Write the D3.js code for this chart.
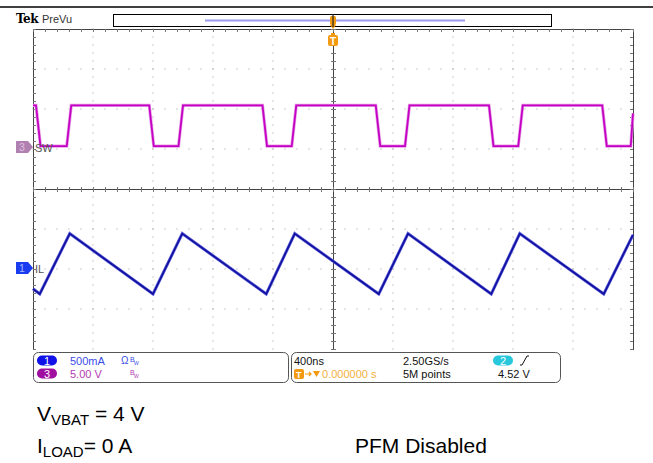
<!DOCTYPE html>
<html>
<head>
<meta charset="utf-8">
<script src="https://cdn.jsdelivr.net/npm/d3@7/dist/d3.min.js"></script>
<style>
  body { margin: 0; background: #fff; }
  svg { display: block; font-family: "Liberation Sans", Arial, sans-serif; }
</style>
</head>
<body>
<div id="chart"></div>
<script>
const swTime = [-2000, -1980, -1950, -1775, -1745, -1225, -1195, -1030, -1000,
  -470, -440, -275, -245, 285, 315, 480, 510, 1040, 1070, 1235, 1265, 1795, 1825, 1985, 2000];
const swVolt = [5.2, 5.2, 0.1, 0.1, 5.2, 5.2, 0.1, 0.1, 5.2,
  5.2, 0.1, 0.1, 5.2, 5.2, 0.1, 0.1, 5.2, 5.2, 0.1, 0.1, 5.2, 5.2, 0.1, 0.1, 4.2];

const ilTime = [-2000, -1955, -1755, -1200, -1005, -445, -255, 305, 500, 1055, 1245, 1805, 2000];
const ilCurrent = [-260, -325, 430, -325, 430, -325, 430, -325, 430, -325, 430, -325, 415]; // mA

const timeRange = [-2000, 2000];
const divRange = [-4, 4];

const W = 653, H = 463;
const plot = { left: 33, right: 633, top: 29, bottom: 349 };

const svg = d3.select('#chart').append('svg')
    .attr('width', W).attr('height', H);

const x = d3.scaleLinear().domain(timeRange).range([plot.left, plot.right]);
const gy = d3.scaleLinear().domain(divRange).range([plot.bottom, plot.top]);
const ySW = d3.scaleLinear().domain([0, 5]).range([147, 107]);
const yIL = d3.scaleLinear().domain([0, 500]).range([268, 228]);

// top rule
svg.append('line').attr('x1', 0).attr('x2', W).attr('y1', 7).attr('y2', 7)
    .attr('stroke', '#000').attr('stroke-width', 1.5);

// header
svg.append('text').attr('x', 16).attr('y', 23)
    .attr('font-family', '"DejaVu Serif", serif').attr('font-weight', 'bold')
    .attr('font-size', 12).attr('letter-spacing', -0.5).text('Tek');
svg.append('text').attr('x', 42).attr('y', 23)
    .attr('font-size', 11).attr('fill', '#333').text('PreVu');

// record view bar
svg.append('rect').attr('x', 113.5).attr('y', 14.5).attr('width', 438).attr('height', 12)
    .attr('fill', '#fff').attr('stroke', '#000');
svg.append('line').attr('x1', 205).attr('x2', 465).attr('y1', 20.5).attr('y2', 20.5)
    .attr('stroke', '#9a9af0').attr('stroke-width', 2);
svg.append('rect').attr('x', x(0) - 3).attr('y', 16).attr('width', 6).attr('height', 9)
    .attr('rx', 1.5).attr('fill', '#f39a12');
svg.append('path').attr('d', `M${x(0) - 3},25 L${x(0) + 3},25 L${x(0)},29 Z`)
    .attr('fill', '#f39a12');
svg.append('line').attr('x1', x(0)).attr('x2', x(0)).attr('y1', 14).attr('y2', 27)
    .attr('stroke', '#222').attr('stroke-width', 1.2);

// graticule dots
const majorT = d3.range(-1600, 1601, 400).filter((t) => t !== 0);
const majorD = d3.range(-3, 4).filter((d) => d !== 0);
const minorT = d3.range(timeRange[0], timeRange[1] + 1, 80);
const minorD = d3.range(divRange[0], divRange[1] + 0.001, 0.2);
const dots = [];
majorT.forEach((t) => minorD.forEach((d) => dots.push([x(t), gy(d)])));
majorD.forEach((d) => minorT.forEach((t) => dots.push([x(t), gy(d)])));
svg.append('g').selectAll('rect').data(dots).join('rect')
    .attr('x', (d) => Math.round(d[0]) - 0.5).attr('y', (d) => Math.round(d[1]) - 0.5)
    .attr('width', 1).attr('height', 1).attr('fill', '#9a9a9a');

// frame and crosshair
const frame = svg.append('g').attr('stroke', '#444').attr('fill', 'none');
frame.append('path')
    .attr('d', `M${plot.left + 0.5},${plot.bottom + 1} V${plot.top + 0.5} H${plot.right + 0.5} V${plot.bottom + 1}`);
frame.append('line').attr('x1', plot.left).attr('x2', plot.right)
    .attr('y1', gy(0) + 0.5).attr('y2', gy(0) + 0.5);
frame.append('line').attr('x1', x(0) + 0.5).attr('x2', x(0) + 0.5)
    .attr('y1', plot.top).attr('y2', plot.bottom);
const ticks = svg.append('g').attr('stroke', '#777').attr('fill', 'none');
minorT.forEach((t) => {
  const px = Math.round(x(t)) + 0.5;
  ticks.append('line').attr('x1', px).attr('x2', px).attr('y1', gy(0) - 2).attr('y2', gy(0) + 3);
  ticks.append('line').attr('x1', px).attr('x2', px).attr('y1', plot.top).attr('y2', plot.top + 3);
});
minorD.forEach((d) => {
  const py = Math.round(gy(d)) + 0.5;
  ticks.append('line').attr('x1', x(0) - 2).attr('x2', x(0) + 3).attr('y1', py).attr('y2', py);
  ticks.append('line').attr('x1', plot.left).attr('x2', plot.left + 3).attr('y1', py).attr('y2', py);
  ticks.append('line').attr('x1', plot.right - 3).attr('x2', plot.right).attr('y1', py).attr('y2', py);
});

// trigger marker below top edge
const tm = svg.append('g').attr('transform', `translate(${x(0)},33)`);
tm.append('path').attr('d', 'M-2,0 L2,0 L2,2 L-2,2 Z').attr('fill', '#f39a12');
tm.append('rect').attr('x', -5).attr('y', 2).attr('width', 10).attr('height', 11)
    .attr('rx', 2).attr('fill', '#f39a12');
tm.append('text').attr('x', 0).attr('y', 11.5).attr('text-anchor', 'middle')
    .attr('font-size', 10).attr('font-weight', 'bold').attr('fill', '#fff').text('T');

// traces
const swData = swTime.map((t, i) => [t, swVolt[i]]);
const ilData = ilTime.map((t, i) => [t, ilCurrent[i]]);
svg.append('path').datum(swData)
    .attr('fill', 'none').attr('stroke', '#e7a0e7').attr('stroke-width', 3.2)
    .attr('d', d3.line().x((d) => x(d[0])).y((d) => ySW(d[1])));
svg.append('path').datum(swData)
    .attr('fill', 'none').attr('stroke', '#c400c4').attr('stroke-width', 1.8)
    .attr('d', d3.line().x((d) => x(d[0])).y((d) => ySW(d[1])));
svg.append('path').datum(ilData)
    .attr('fill', 'none').attr('stroke', '#5a5ad8').attr('stroke-width', 3)
    .attr('d', d3.line().x((d) => x(d[0])).y((d) => yIL(d[1])));
svg.append('path').datum(ilData)
    .attr('fill', 'none').attr('stroke', '#1010a0').attr('stroke-width', 1.6)
    .attr('d', d3.line().x((d) => x(d[0])).y((d) => yIL(d[1])));

// channel ground markers
const marker = (yy, fill, txtFill, num, label) => {
  const g = svg.append('g').attr('transform', `translate(0,${yy})`);
  g.append('path').attr('d', 'M16,-6 H28 L33,0 L28,6 H16 Z').attr('fill', fill);
  g.append('text').attr('x', 22).attr('y', 4).attr('text-anchor', 'middle')
      .attr('font-size', 10.5).attr('fill', txtFill).text(num);
  g.append('text').attr('x', 35).attr('y', 4.5)
      .attr('font-size', 11).attr('fill', '#555').text(label);
};
marker(ySW(0), '#b080b0', '#e0c0e0', '3', 'SW');
marker(yIL(0), '#1a3cf0', '#a8b8ff', '1', 'IL');

// status readout
const st = svg.append('g');
st.append('rect').attr('x', 33.5).attr('y', 352.5).attr('width', 255).attr('height', 30)
    .attr('rx', 5).attr('fill', 'none').attr('stroke', '#555');
st.append('rect').attr('x', 291.5).attr('y', 352.5).attr('width', 269).attr('height', 30)
    .attr('rx', 5).attr('fill', 'none').attr('stroke', '#555');
const pill = (cx, cy, fill, num) => {
  st.append('rect').attr('x', cx - 10).attr('y', cy - 5).attr('width', 20).attr('height', 10)
      .attr('rx', 5).attr('fill', fill);
  st.append('text').attr('x', cx).attr('y', cy + 4).attr('text-anchor', 'middle')
      .attr('font-size', 11).attr('fill', '#fff').text(num);
};
const txt = (xx, yy, s, fill, size = 11) =>
  st.append('text').attr('x', xx).attr('y', yy).attr('font-size', size).attr('fill', fill).text(s);
pill(47, 360.5, '#1010e8', '1');
pill(47, 373.5, '#a010a0', '3');
pill(503, 360.5, '#28c8dc', '2');
txt(70, 365, '500mA', '#3a4ce8');
txt(70, 378, '5.00 V', '#b23ab2');
txt(121, 364, 'Ω', '#3a4ce8', 10);
txt(130, 362, 'B', '#3a4ce8', 7);
txt(134, 365, 'W', '#3a4ce8', 5);
txt(130, 375, 'B', '#b23ab2', 7);
txt(134, 378, 'W', '#b23ab2', 5);
txt(294, 365, '400ns', '#111');
txt(403, 365, '2.50GS/s', '#111');
txt(403, 378, '5M points', '#111');
txt(498, 378, '4.52 V', '#111');
st.append('path').attr('d', 'M520,365 L522,365 L527,356 L529,356')
    .attr('fill', 'none').attr('stroke', '#111').attr('stroke-width', 1);
st.append('rect').attr('x', 294).attr('y', 369).attr('width', 10).attr('height', 10)
    .attr('rx', 2).attr('fill', '#f39a12');
txt(296, 377.5, 'T', '#fff', 9).attr('font-weight', 'bold');
st.append('path').attr('d', 'M305,374 H311 M309,372 L311,374 L309,376')
    .attr('fill', 'none').attr('stroke', '#f39a12').attr('stroke-width', 1.2);
st.append('path').attr('d', 'M313,371 H320 L316.5,377 Z').attr('fill', '#f39a12');
txt(322, 378, '0.000000 s', '#f3b040');

// test conditions
const note = svg.append('g').attr('font-size', 21).attr('fill', '#000');
const t1 = note.append('text').attr('x', 37).attr('y', 421);
t1.append('tspan').text('V');
t1.append('tspan').attr('font-size', 15).attr('dy', 4).text('VBAT');
t1.append('tspan').attr('dy', -4).text(' = 4 V');
const t2 = note.append('text').attr('x', 37).attr('y', 453);
t2.append('tspan').text('I');
t2.append('tspan').attr('font-size', 15).attr('dy', 4).text('LOAD');
t2.append('tspan').attr('dy', -4).text('= 0 A');
note.append('text').attr('x', 355).attr('y', 453).text('PFM Disabled');
</script>
</body>
</html>
